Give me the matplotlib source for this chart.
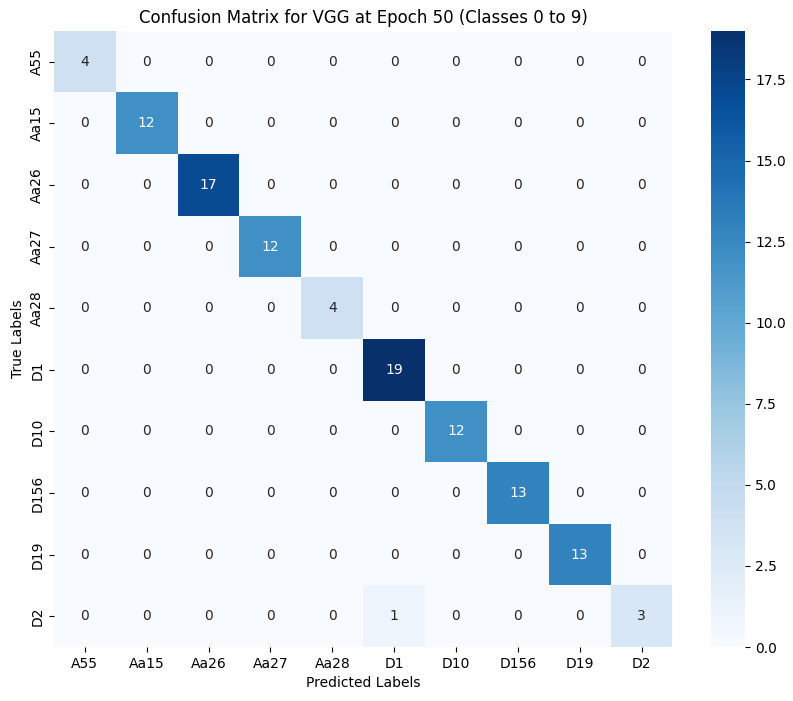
import numpy as np
import matplotlib.pyplot as plt
import seaborn as sns

labels = ["A55", "Aa15", "Aa26", "Aa27", "Aa28", "D1", "D10", "D156", "D19", "D2"]
diag = [4, 12, 17, 12, 4, 19, 12, 13, 13, 3]
off_diag = [(9, 5, 1)]  # (true, predicted, count)

cm = np.diag(diag)
for r, c, v in off_diag:
    cm[r, c] = v

fig = plt.figure(figsize=(7.93, 7.01), dpi=100)
ax = fig.add_axes([0.068, 0.077, 0.78, 0.879])
cax = fig.add_axes([0.897, 0.077, 0.043, 0.879])
sns.heatmap(cm, annot=True, fmt="d", cmap="Blues", xticklabels=labels,
            yticklabels=labels, ax=ax, cbar_ax=cax)
ax.set_title("Confusion Matrix for VGG at Epoch 50 (Classes 0 to 9)")
ax.set_xlabel("Predicted Labels")
ax.set_ylabel("True Labels")
plt.savefig("out.png", dpi=100)
